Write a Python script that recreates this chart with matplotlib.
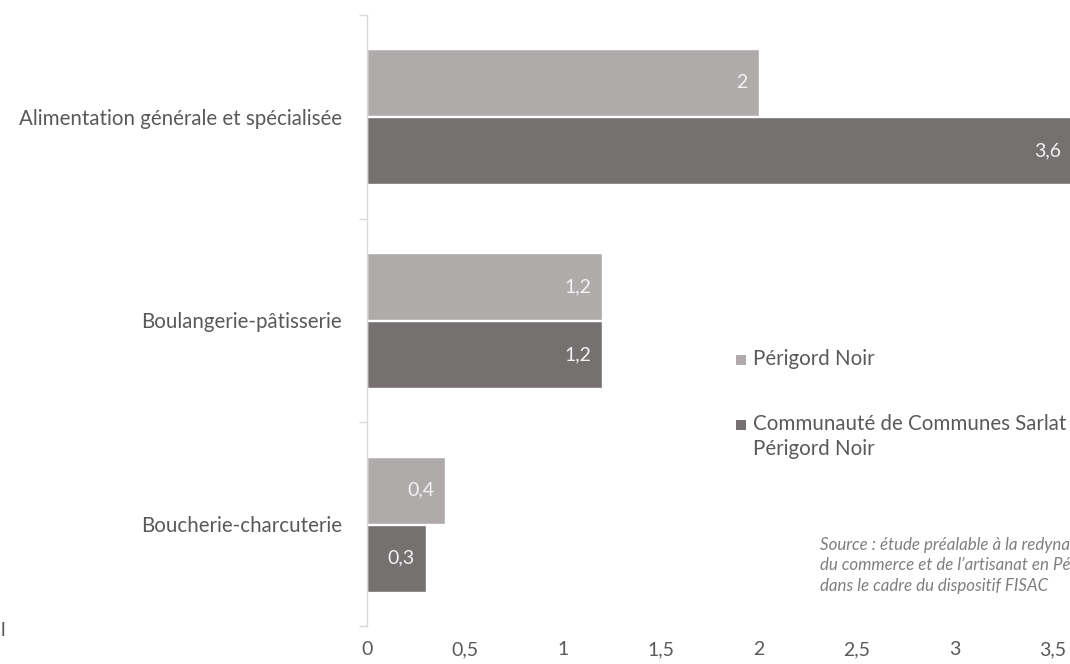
import matplotlib
matplotlib.use("Agg")
import matplotlib.pyplot as plt
import numpy as np
from matplotlib.patches import Rectangle
from matplotlib.ticker import FuncFormatter, FixedLocator

categories = ["Alimentation générale et spécialisée", "Boulangerie-pâtisserie", "Boucherie-charcuterie"]
series_names = ["Périgord Noir", "Communauté de Communes Sarlat\nPérigord Noir"]
perigord = [2.0, 1.2, 0.4]
ccsarlat = [3.6, 1.2, 0.3]
xticks = [0, 0.5, 1, 1.5, 2, 2.5, 3, 3.5]
source_text = ("Source : étude préalable à la redynamisation\n"
               "du commerce et de l\u2019artisanat en Périgord Noir\n"
               "dans le cadre du dispositif FISAC")

light = "#AFABAB"
dark = "#767171"
txt = "#595959"
plt.rcParams['font.family'] = ['Lato', 'DejaVu Sans']

W, H = 1070, 664
fig = plt.figure(figsize=(W/100, H/100), dpi=100)
x0 = 367
ppu = 196.0
xmax = 4.0
ax = fig.add_axes([x0/W, 1-626/H, xmax*ppu/W, (626-15)/H])

y = np.arange(len(categories))
off = 0.167
bh = 0.33
b1 = ax.barh(y - off, perigord, height=bh, color=light, edgecolor="white", linewidth=1.0)
b2 = ax.barh(y + off, ccsarlat, height=bh, color=dark, edgecolor="white", linewidth=1.0)

fmt = lambda v: ("%g" % v).replace(".", ",")
for bars in (b1, b2):
    labs = ax.bar_label(bars, labels=[fmt(b.get_width()) for b in bars], padding=-8,
                        color="#F2F2F2", fontsize=14)
    for t in labs:
        t.set_ha("right")

ax.set_xlim(0, xmax)
ax.set_ylim(2.5, -0.5)
ax.xaxis.set_major_locator(FixedLocator(xticks))
ax.xaxis.set_major_formatter(FuncFormatter(lambda v, p: fmt(v)))
ax.tick_params(axis="x", length=0, pad=11, labelsize=14, labelcolor=txt)

ax.yaxis.set_major_locator(FixedLocator([-0.5, 0.5, 1.5, 2.5]))
ax.yaxis.set_major_formatter(FuncFormatter(lambda v, p: ""))
ax.yaxis.set_minor_locator(FixedLocator(list(y)))
ax.set_yticklabels(categories, minor=True)
ax.tick_params(axis="y", which="major", length=6, width=1, color="#D9D9D9")
ax.tick_params(axis="y", which="minor", length=0, pad=18, labelsize=14.8, labelcolor=txt)

for s in ["top", "right", "bottom"]:
    ax.spines[s].set_visible(False)
ax.spines["left"].set_color("#D9D9D9")
ax.spines["left"].set_linewidth(1)

# legend
leg_items = [(light, series_names[0], 360), (dark, series_names[1], 425)]
for col, lab, py in leg_items:
    fig.add_artist(Rectangle((736/W, 1-(py+5)/H), 10/W, 10/H, transform=fig.transFigure,
                             facecolor=col, edgecolor="none"))
    fig.text(753/W, 1-(py-11)/H, lab, ha="left", va="top", fontsize=14.8, color=txt,
             linespacing=1.3)

fig.text(820/W, 1-537/H, source_text, ha="left", va="top", fontsize=12.2, color="#7F7F7F",
         style="italic", linespacing=1.32)
fig.text(1/W, 1-630/H, "l", ha="left", va="center", fontsize=14, color=txt)

fig.savefig("out.png", dpi=100)
